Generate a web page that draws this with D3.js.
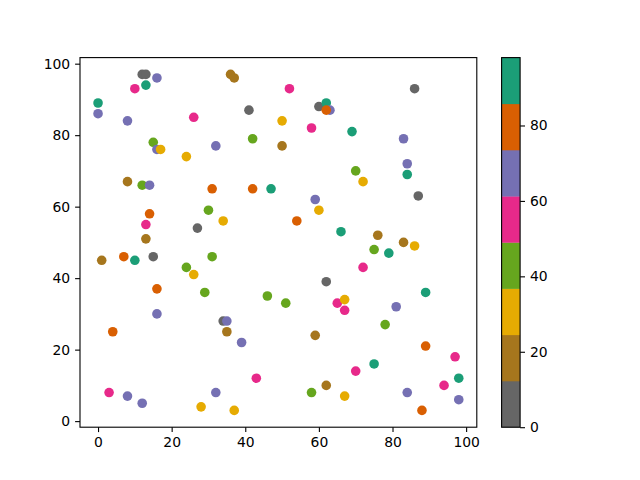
<!DOCTYPE html>
<html>
<head>
<meta charset="utf-8">
<script src="https://cdn.jsdelivr.net/npm/d3@7"></script>
<style>
  html, body { margin: 0; padding: 0; background: #fff; }
  svg { display: block; }
</style>
</head>
<body>
<div id="chart"></div>
<script>
// point data
const xs = [12, 13, 16, 13, 10, 0, 0, 8, 26, 36, 37, 41, 50, 15, 16, 17, 24, 32, 42, 50,
            8, 12, 14, 31, 42, 47, 14, 13, 30, 34, 27, 13, 52, 86, 60, 62, 63, 62, 58, 69,
            83, 70, 72, 84, 84, 87, 59, 60, 54, 66, 76, 83, 86, 75, 79, 72, 62, 89, 46, 51,
            65, 67, 67, 81, 78, 59, 89, 97, 75, 70, 98, 94, 62, 58, 67, 84, 98, 88, 1, 7,
            10, 15, 31, 24, 26, 16, 29, 16, 4, 34, 35, 35, 39, 43, 3, 8, 12, 32, 28, 37]
const ys = [97, 97, 96, 94, 93, 89, 86, 84, 85, 97, 96, 87, 84, 78, 76, 76, 74, 77, 79, 77,
            67, 66, 66, 65, 65, 65, 58, 55, 59, 56, 54, 51, 93, 93, 88, 89, 87, 87, 82, 81,
            79, 70, 67, 72, 69, 63, 62, 59, 56, 53, 52, 50, 49, 48, 47, 43, 39, 36, 35, 33,
            33, 34, 31, 32, 27, 24, 21, 18, 16, 14, 12, 10, 10, 8, 7, 8, 6, 3, 45, 46,
            45, 46, 46, 43, 41, 37, 36, 30, 25, 28, 28, 25, 22, 12, 8, 7, 5, 8, 4, 3]
const cs = [3, 9, 66, 91, 55, 98, 70, 64, 52, 17, 21, 5, 27, 41, 68, 33, 29, 63, 45, 14,
            19, 39, 71, 77, 82, 88, 75, 58, 44, 31, 0, 22, 50, 8, 11, 94, 67, 79, 60, 87,
            69, 47, 26, 62, 90, 2, 72, 34, 84, 93, 16, 23, 28, 38, 86, 53, 7, 96, 42, 46,
            57, 35, 51, 65, 40, 18, 81, 59, 89, 54, 92, 49, 13, 43, 30, 73, 62, 76, 20, 80,
            95, 10, 48, 37, 25, 74, 41, 66, 83, 4, 70, 15, 64, 56, 61, 68, 63, 72, 32, 26]

const xTicks = [0, 20, 40, 60, 80, 100]
const yTicks = [0, 20, 40, 60, 80, 100]
const cTicks = [0, 20, 40, 60, 80]

// Dark2, reversed
const palette = ["#1b9e77", "#d95f02", "#7570b3", "#e7298a",
                 "#66a61e", "#e6ab02", "#a6761d", "#666666"].reverse()

const width = 640, height = 480
const ax = { left: 80, top: 57.6, right: 476.8, bottom: 427.2 }
const cb = { left: 501.6, right: 520.1 }
const font = "DejaVu Sans"
const fontSize = 13.9

const svg = d3.select("#chart").append("svg")
    .attr("width", width).attr("height", height)

const xExt = d3.extent(xs), yExt = d3.extent(ys), cExt = d3.extent(cs)
const xPad = (xExt[1] - xExt[0]) * 0.05
const yPad = (yExt[1] - yExt[0]) * 0.05

const x = d3.scaleLinear().domain([xExt[0] - xPad, xExt[1] + xPad]).range([ax.left, ax.right])
const y = d3.scaleLinear().domain([yExt[0] - yPad, yExt[1] + yPad]).range([ax.bottom, ax.top])
const color = d3.scaleQuantize().domain(cExt).range(palette)

svg.append("g")
    .selectAll("circle")
    .data(d3.range(xs.length))
    .join("circle")
    .attr("cx", i => x(xs[i]))
    .attr("cy", i => y(ys[i]))
    .attr("r", 4.8)
    .attr("fill", i => color(cs[i]))

function styleAxis(g) {
    g.select(".domain").remove()
    g.selectAll(".tick line").attr("stroke", "#000").attr("stroke-width", 1.1)
    g.selectAll(".tick text")
        .attr("font-family", font).attr("font-size", fontSize).attr("fill", "#000")
}

svg.append("g")
    .attr("transform", `translate(0,${ax.bottom})`)
    .call(d3.axisBottom(x).tickValues(xTicks).tickSize(4.9).tickPadding(4.9))
    .call(styleAxis)
    .selectAll(".tick text").attr("dy", "0.71em")

svg.append("g")
    .attr("transform", `translate(${ax.left},0)`)
    .call(d3.axisLeft(y).tickValues(yTicks).tickSize(4.9).tickPadding(4.9))
    .call(styleAxis)

svg.append("rect")
    .attr("x", ax.left).attr("y", ax.top)
    .attr("width", ax.right - ax.left).attr("height", ax.bottom - ax.top)
    .attr("fill", "none").attr("stroke", "#000").attr("stroke-width", 1.1)

// colorbar
const cy = d3.scaleLinear().domain(cExt).range([ax.bottom, ax.top])
const step = (cExt[1] - cExt[0]) / palette.length

svg.append("g")
    .selectAll("rect")
    .data(palette)
    .join("rect")
    .attr("x", cb.left)
    .attr("width", cb.right - cb.left)
    .attr("y", (d, i) => cy(cExt[0] + (i + 1) * step))
    .attr("height", (d, i) => cy(cExt[0] + i * step) - cy(cExt[0] + (i + 1) * step) + 0.3)
    .attr("fill", d => d)

svg.append("rect")
    .attr("x", cb.left).attr("y", ax.top)
    .attr("width", cb.right - cb.left).attr("height", ax.bottom - ax.top)
    .attr("fill", "none").attr("stroke", "#000").attr("stroke-width", 1.1)

svg.append("g")
    .attr("transform", `translate(${cb.right},0)`)
    .call(d3.axisRight(cy).tickValues(cTicks).tickSize(4.9).tickPadding(4.9))
    .call(styleAxis)
</script>
</body>
</html>
